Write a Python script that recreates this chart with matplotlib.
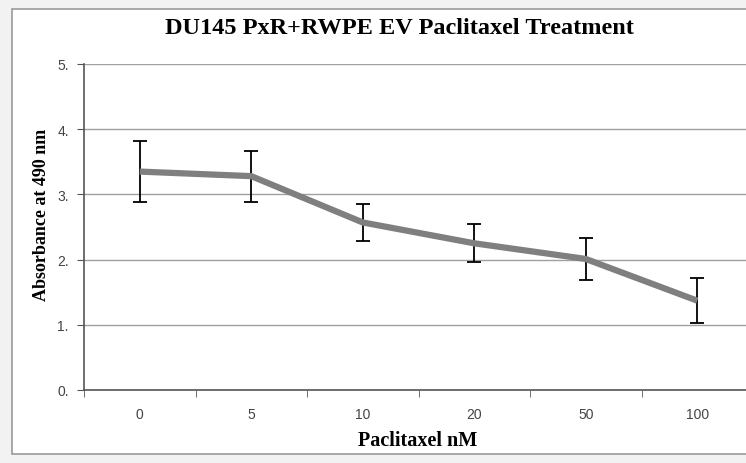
import numpy as np
import matplotlib.pyplot as plt
from matplotlib.patches import Rectangle

doses = ['0', '5', '10', '20', '50', '100']
absorbance = [3.35, 3.28, 2.57, 2.25, 2.01, 1.37]
errors = [0.47, 0.39, 0.28, 0.29, 0.32, 0.35]
y_ticks = [0, 1, 2, 3, 4, 5]
y_labels = ['0.', '1.', '2.', '3.', '4.', '5.']

fig = plt.figure(figsize=(7.46, 4.64), dpi=100)
fig.patch.set_facecolor('#f2f2f2')

# chart frame like the spreadsheet export
fig.add_artist(Rectangle((12 / 746, 1 - 455 / 464), 1.0, (455 - 10) / 464,
                         transform=fig.transFigure, facecolor='white',
                         edgecolor='#9a9a9a', linewidth=1.2, zorder=0))

ax = fig.add_axes([84 / 746, 1 - 391 / 464, (753 - 84) / 746, (391 - 65) / 464])
ax.set_facecolor('white')
x = np.arange(len(doses))

ax.errorbar(x, absorbance, yerr=errors, fmt='none', ecolor='black',
            elinewidth=1.3, capsize=5, capthick=1.3, zorder=3)
ax.plot(x, absorbance, color='#7f7f7f', linewidth=4.5, solid_capstyle='butt', zorder=4)

ax.set_xlim(-0.5, len(doses) - 0.5)
ax.set_ylim(0, 5)
ax.set_xticks(x)
ax.set_xticklabels(doses, family='Liberation Sans', fontsize=10, color='#444444')
ax.set_xticks(np.arange(-0.5, len(doses), 1), minor=True)
ax.tick_params(axis='x', which='major', length=0, pad=12)
ax.tick_params(axis='x', which='minor', length=5, direction='out', color='#555555')
ax.set_yticks(y_ticks)
ax.set_yticklabels(y_labels, family='Liberation Sans', fontsize=10, color='#444444')
ax.tick_params(axis='y', length=5, direction='out', color='#555555', pad=6)

ax.grid(axis='y', color='#a0a0a0', linewidth=1)
ax.set_axisbelow(True)
for side in ['top', 'right']:
    ax.spines[side].set_visible(False)
for side in ['left', 'bottom']:
    ax.spines[side].set_color('#555555')
    ax.spines[side].set_linewidth(1.2)

fig.text(399 / 746, 1 - 28 / 464, 'DU145 PxR+RWPE EV Paclitaxel Treatment',
         ha='center', va='center', family='Liberation Serif',
         fontweight='bold', fontsize=17.5)
fig.text(42 / 746, 1 - 215 / 464, 'Absorbance at 490 nm', rotation=90,
         ha='center', va='center', family='Liberation Serif',
         fontweight='bold', fontsize=13)
fig.text(418 / 746, 1 - 441 / 464, 'Paclitaxel nM', ha='center', va='center',
         family='Liberation Serif', fontweight='bold', fontsize=14.5)

fig.savefig('out.png', dpi=100)
